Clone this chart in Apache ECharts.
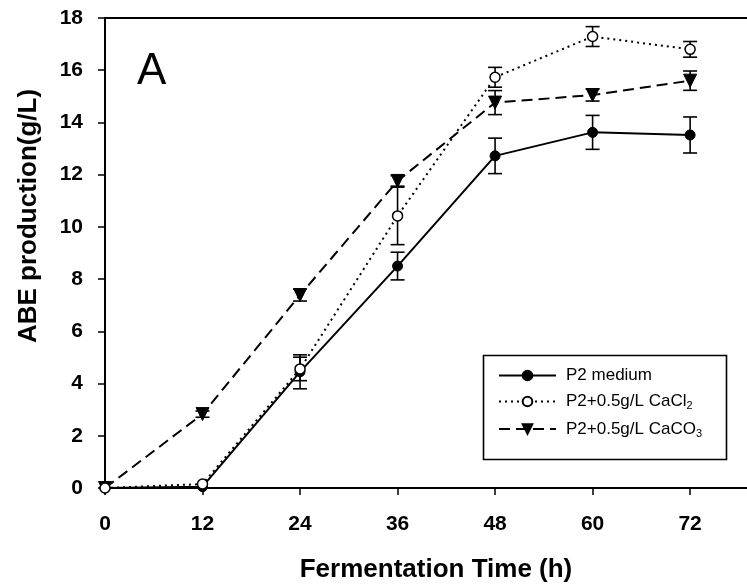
<!DOCTYPE html>
<html>
<head>
<meta charset="utf-8">
<script src="https://cdn.jsdelivr.net/npm/echarts@6/dist/echarts.min.js"></script>
<style>
html,body{margin:0;padding:0;background:#fff;}
#c{width:747px;height:588px;}
</style>
</head>
<body>
<div id="c"></div>
<script>
// ---- data ----
const hours = [0, 12, 24, 36, 48, 60, 72];
const xTicks = [0, 12, 24, 36, 48, 60, 72];
const seriesNames = ['P2 medium', 'P2+0.5g/L CaCl2', 'P2+0.5g/L CaCO3'];
const p2 = [0, 0.05, 4.45, 8.5, 12.72, 13.62, 13.52];
const p2Err = [0, 0, 0.65, 0.53, 0.68, 0.65, 0.69];
const cacl2 = [0, 0.15, 4.56, 10.42, 15.73, 17.29, 16.8];
const cacl2Err = [0, 0, 0.45, 1.1, 0.38, 0.38, 0.3];
const caco3 = [0, 2.83, 7.39, 11.76, 14.76, 15.05, 15.6];
const caco3Err = [0, 0.12, 0.23, 0.2, 0.46, 0.23, 0.37];
const xTitle = 'Fermentation Time (h)';
const yTitle = 'ABE production(g/L)';
const panelLabel = 'A';

const FONT = '"Liberation Sans", Arial, sans-serif';
const chart = echarts.init(document.getElementById('c'), null, {renderer: 'canvas'});

function pairs(ys) { return hours.map((h, i) => [h, ys[i]]); }
function errData(ys, es) { return hours.map((h, i) => [h, ys[i], es[i]]); }

function errSeries(ys, es) {
  return {
    type: 'custom',
    xAxisIndex: 0, yAxisIndex: 0,
    data: errData(ys, es),
    z: 3,
    silent: true,
    renderItem: function (params, api) {
      const x = api.value(0), y = api.value(1), e = api.value(2);
      if (!e) return null;
      const top = api.coord([x, y + e]);
      const bot = api.coord([x, y - e]);
      const cw = 7;
      const st = {stroke: '#000', lineWidth: 1.6};
      return {
        type: 'group',
        children: [
          {type: 'line', shape: {x1: top[0], y1: top[1], x2: bot[0], y2: bot[1]}, style: st},
          {type: 'line', shape: {x1: top[0] - cw, y1: top[1], x2: top[0] + cw, y2: top[1]}, style: st},
          {type: 'line', shape: {x1: bot[0] - cw, y1: bot[1], x2: bot[0] + cw, y2: bot[1]}, style: st}
        ]
      };
    }
  };
}

const option = {
  animation: false,
  backgroundColor: '#fff',
  grid: {left: 105, top: 18, right: 0, bottom: 100, containLabel: false},
  xAxis: [{
    type: 'value', min: 0, max: 79, interval: 12,
    axisLine: {show: true, lineStyle: {color: '#000', width: 2}},
    axisTick: {show: true, inside: false, length: 7, lineStyle: {color: '#000', width: 1.5}, customValues: xTicks},
    axisLabel: {fontFamily: FONT, fontWeight: 'bold', fontSize: 21, color: '#000', margin: 26, customValues: xTicks},
    splitLine: {show: false}
  }, {
    type: 'value', min: 0, max: 79, position: 'top',
    axisLine: {show: true, onZero: false, lineStyle: {color: '#000', width: 2}},
    axisTick: {show: false}, axisLabel: {show: false}, splitLine: {show: false}
  }],
  yAxis: {
    type: 'value', min: 0, max: 18, interval: 2,
    axisLine: {show: true, lineStyle: {color: '#000', width: 2}},
    axisTick: {show: true, inside: false, length: 7, lineStyle: {color: '#000', width: 1.5}},
    axisLabel: {fontFamily: FONT, fontWeight: 'bold', fontSize: 21, color: '#000', margin: 22},
    splitLine: {show: false}
  },
  legend: {
    left: 493, top: 362, orient: 'vertical',
    itemWidth: 57, itemHeight: 12, itemGap: 9,
    data: seriesNames,
    formatter: function (name) {
      if (name === seriesNames[1]) return 'P2+0.5g/L CaCl{sub|2}';
      if (name === seriesNames[2]) return 'P2+0.5g/L CaCO{sub|3}';
      return name;
    },
    textStyle: {
      fontFamily: FONT, fontSize: 17, color: '#000', padding: [0, 0, 0, 5],
      rich: {sub: {fontFamily: FONT, fontSize: 11, color: '#000', verticalAlign: 'bottom', padding: [9, 0, 0, 0]}}
    }
  },
  graphic: [
    {type: 'rect', left: 481, top: 353, shape: {width: 243, height: 104}, style: {fill: 'none', stroke: '#000', lineWidth: 1.6}, z: 100},
    {type: 'text', left: 137, top: 50, style: {text: panelLabel, fontFamily: FONT, fontSize: 44, fill: '#000'}, z: 100},
    {type: 'text', x: 436, y: 570, style: {text: xTitle, fontFamily: FONT, fontWeight: 'bold', fontSize: 26, fill: '#000', align: 'center', verticalAlign: 'middle'}, z: 100},
    {type: 'text', x: 29, y: 216, rotation: Math.PI / 2, style: {text: yTitle, fontFamily: FONT, fontWeight: 'bold', fontSize: 26, fill: '#000', align: 'center', verticalAlign: 'middle'}, z: 100}
  ],
  series: [
    {
      name: seriesNames[0], type: 'line', data: pairs(p2), z: 4,
      symbol: 'circle', symbolSize: 10,
      lineStyle: {color: '#000', width: 2, type: 'solid'},
      itemStyle: {color: '#000', borderColor: '#000', borderWidth: 1}
    },
    {
      name: seriesNames[1], type: 'line', data: pairs(cacl2), z: 5,
      symbol: 'circle', symbolSize: 10,
      lineStyle: {color: '#000', width: 2, type: [2, 4]},
      itemStyle: {color: '#fff', borderColor: '#000', borderWidth: 1.5}
    },
    {
      name: seriesNames[2], type: 'line', data: pairs(caco3), z: 4,
      symbol: 'triangle', symbolRotate: 180, symbolSize: 13,
      lineStyle: {color: '#000', width: 2, type: [11, 6]},
      itemStyle: {color: '#000', borderColor: '#000', borderWidth: 1}
    },
    errSeries(p2, p2Err),
    errSeries(cacl2, cacl2Err),
    errSeries(caco3, caco3Err)
  ]
};
chart.setOption(option);
</script>
</body>
</html>
